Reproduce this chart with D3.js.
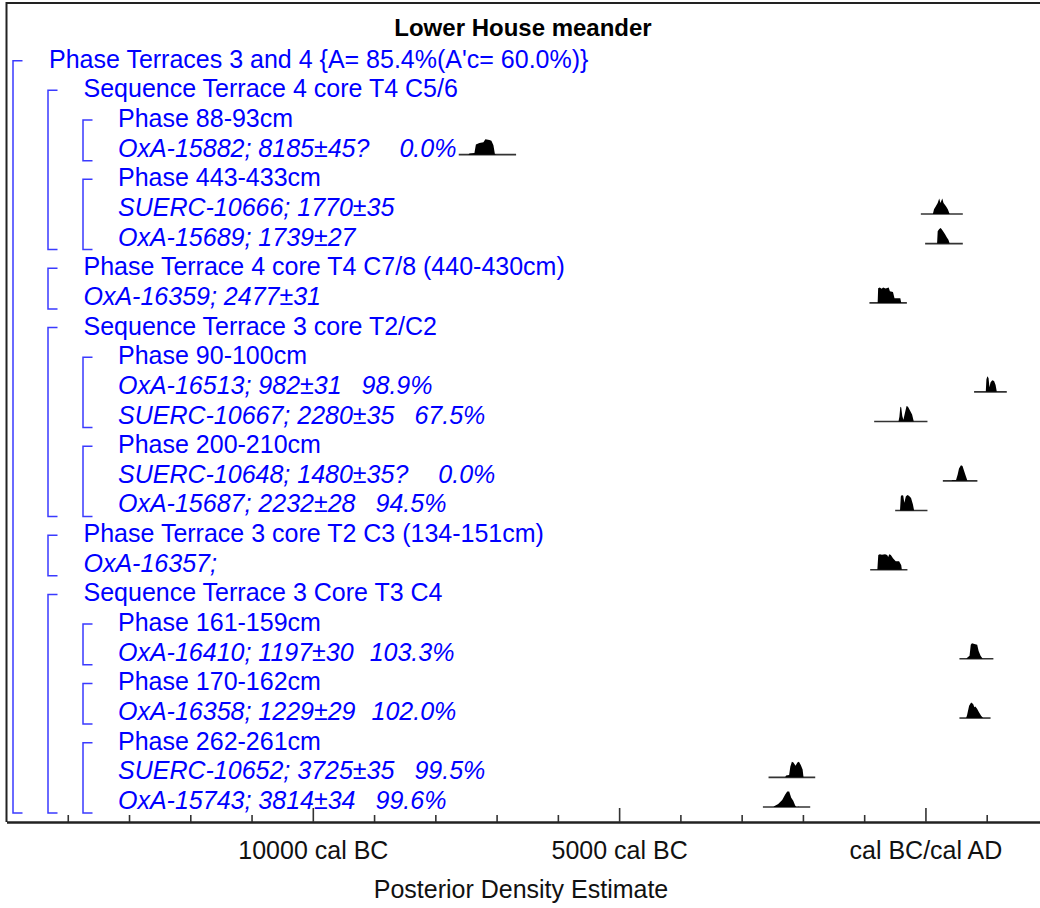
<!DOCTYPE html>
<html>
<head>
<meta charset="utf-8">
<script src="https://cdn.jsdelivr.net/npm/d3@7"></script>
<style>
body{margin:0;background:#fff;}
text{font-family:"Liberation Sans",Arial,sans-serif;}
</style>
</head>
<body>
<div id="canvas"></div>
<script>
// rows of the OxCal multiplot, top to bottom
var rowLabels = [
    'Phase Terraces 3 and 4 {A= 85.4%(A\'c= 60.0%)}',
    'Sequence Terrace 4 core T4 C5/6',
    'Phase 88-93cm',
    'OxA-15882; 8185±45?',
    'Phase 443-433cm',
    'SUERC-10666; 1770±35',
    'OxA-15689; 1739±27',
    'Phase Terrace 4 core T4 C7/8 (440-430cm)',
    'OxA-16359; 2477±31',
    'Sequence Terrace 3 core T2/C2',
    'Phase 90-100cm',
    'OxA-16513; 982±31',
    'SUERC-10667; 2280±35',
    'Phase 200-210cm',
    'SUERC-10648; 1480±35?',
    'OxA-15687; 2232±28',
    'Phase Terrace 3 core T2 C3 (134-151cm)',
    'OxA-16357;',
    'Sequence Terrace 3 Core T3 C4',
    'Phase 161-159cm',
    'OxA-16410; 1197±30',
    'Phase 170-162cm',
    'OxA-16358; 1229±29',
    'Phase 262-261cm',
    'SUERC-10652; 3725±35',
    'OxA-15743; 3814±34'
];
var rowLevel = [0,1,2,2,2,2,2,1,1,1,2,2,2,2,2,2,1,1,1,2,2,2,2,2,2,2];
var agreement = [null,null,null,'0.0',null,null,null,null,null,null,null,'98.9','67.5',null,'0.0','94.5',null,null,null,null,'103.3',null,'102.0',null,'99.5','99.6'];

// brackets: [first row, last row, level]
var groups = [[0,25,0],[1,6,1],[2,3,2],[4,6,2],[7,8,1],[9,15,1],[10,12,2],[13,15,2],
              [16,17,1],[18,25,1],[19,20,2],[21,22,2],[23,25,2]];

// posterior densities, [year (BC negative), relative density]
var pdfOxA15882 = [[-7460,0],[-7444,0.08],[-7362,0.1],[-7338,0.65],[-7281,0.75],[-7215,0.8],[-7183,1],[-7118,0.95],[-7085,0.9],[-7052,0.6],[-7028,0.05],[-7004,0]];
var pdfSUERC10666 = [[121,0],[140,0.3],[170,0.5],[200,0.7],[225,1],[245,0.7],[275,1],[295,0.7],[335,0.5],[365,0.3],[395,0]];
var pdfOxA15689 = [[190,0],[200,0.8],[225,0.95],[250,1],[280,0.85],[320,0.6],[350,0.4],[375,0.25],[395,0]];
var pdfOxA16359 = [[-780,0],[-772,0.95],[-745,1],[-715,0.92],[-690,1],[-650,0.93],[-600,1],[-580,0.75],[-530,0.7],[-505,0.3],[-410,0.3],[-395,0]];
var pdfOxA16513 = [[985,0],[995,0.8],[1010,1],[1030,0.9],[1045,0.3],[1062,0.6],[1090,0.75],[1120,0.7],[1145,0.45],[1165,0]];
var pdfSUERC10667 = [[-440,0],[-425,0.3],[-410,0.95],[-395,0.9],[-378,0.35],[-360,0.12],[-335,0.55],[-308,1],[-285,0.95],[-250,0.7],[-218,0.45],[-190,0]];
var pdfSUERC10648 = [[430,0],[432,0.05],[500,0.05],[525,0.4],[548,0.8],[580,1],[605,0.95],[630,0.65],[660,0.3],[685,0]];
var pdfOxA15687 = [[-415,0],[-402,0.9],[-385,1],[-362,0.95],[-345,0.5],[-320,0.9],[-295,1],[-270,0.95],[-235,0.8],[-205,0.4],[-185,0]];
var pdfOxA16357 = [[-785,0],[-770,0.95],[-745,1],[-710,0.97],[-660,1],[-625,0.95],[-608,0.82],[-590,1],[-565,0.95],[-530,0.75],[-485,0.55],[-430,0.55],[-395,0.3],[-385,0]];
var pdfOxA16410 = [[665,0],[690,0.1],[720,0.2],[740,0.9],[760,1],[800,0.95],[845,0.9],[868,0.5],[900,0.2],[935,0]];
var pdfOxA16358 = [[664,0],[680,0.2],[713,0.8],[746,1],[778,0.9],[800,0.7],[815,0.75],[843,0.6],[876,0.35],[909,0.15],[941,0]];
var pdfSUERC10652 = [[-2290,0],[-2275,0.12],[-2225,0.15],[-2205,0.7],[-2180,1],[-2155,0.95],[-2120,0.75],[-2090,0.95],[-2065,1],[-2035,0.8],[-2005,0.5],[-1990,0]];
var pdfOxA15743 = [[-2480,0],[-2470,0.05],[-2403,0.2],[-2338,0.45],[-2289,0.8],[-2256,1],[-2224,1],[-2191,0.6],[-2158,0.4],[-2126,0.1],[-2109,0],[-2080,0],[-2075,0.05],[-2070,0]];

// which row each density sits on, with the extent of its flat line
var distRows = [3,5,6,8,11,12,14,15,17,20,22,24,25];
var distPdfs = [pdfOxA15882,pdfSUERC10666,pdfOxA15689,pdfOxA16359,pdfOxA16513,pdfSUERC10667,pdfSUERC10648,pdfOxA15687,pdfOxA16357,pdfOxA16410,pdfOxA16358,pdfSUERC10652,pdfOxA15743];
var distSpan = [[-7618,-6682],[-75,610],[-5,610],[-914,-303],[794,1328],[-837,33],[284,848],[-494,33],[-902,-294],[555,1109],[555,1063],[-2561,-1799],[-2653,-1881]];

var minorTicks = [-14000,-13000,-12000,-11000,-9000,-8000,-7000,-6000,-4000,-3000,-2000,-1000,1000];
var majorTicks = [-10000,-5000,0];
var majorLabels = ['10000 cal BC','5000 cal BC','cal BC/cal AD'];

var W = 1040, H = 908;
var axisY = 822;

var svg = d3.select('#canvas').append('svg')
    .attr('width',W)
    .attr('height',H);

var x = d3.scaleLinear().domain([-15000,1870]).range([6.5,1040]);
var rowY = d3.scaleLinear().domain([0,25]).range([67.7,809]);
var hY = d3.scaleLinear().domain([0,1]).range([0,-15.5]);

// frame
svg.append('path')
    .attr('d','M6.5,' + axisY + 'V3H1040')
    .attr('fill','none')
    .attr('stroke','#222')
    .attr('stroke-width',2);

svg.append('text')
    .attr('x',523).attr('y',36)
    .attr('text-anchor','middle')
    .attr('font-size',24)
    .attr('font-weight','bold')
    .text('Lower House meander');

// brackets
svg.selectAll('.bracket')
    .data(groups)
  .enter().append('path')
    .attr('class','bracket')
    .attr('fill','none')
    .attr('stroke','#3a3aff')
    .attr('stroke-width',1.5)
    .attr('d',function(g){
        var bx = 13 + 35*g[2];
        var y0 = rowY(g[0]) - 7, y1 = rowY(g[1]) + 4;
        return 'M' + (bx+9.5) + ',' + y0 + 'H' + bx + 'V' + y1 + 'H' + (bx+9.5);
    });

// labels
var isHeader = {};
groups.forEach(function(g){ isHeader[g[0]] = true; });

var labels = svg.selectAll('.label')
    .data(rowLabels)
  .enter().append('text')
    .attr('class','label')
    .attr('x',function(d,i){ return 49 + 34.5*rowLevel[i]; })
    .attr('y',function(d,i){ return rowY(i); })
    .attr('font-size',25)
    .attr('fill','#0000ff')
    .attr('font-style',function(d,i){ return isHeader[i] ? 'normal' : 'italic'; });

labels.append('tspan').text(function(d){ return d; });
labels.filter(function(d,i){ return agreement[i]; })
    .append('tspan')
    .attr('dx',function(d){
        var a = agreement[rowLabels.indexOf(d)];
        var n = a.split('.')[0].length;
        return n === 1 ? 30 : (n === 2 ? 20 : 16);
    })
    .text(function(d){ return agreement[rowLabels.indexOf(d)] + '%'; });

// densities
var area = d3.area()
    .x(function(d){ return x(d[0]); })
    .y0(0)
    .y1(function(d){ return hY(d[1]); });

var dist = svg.selectAll('.dist')
    .data(distRows)
  .enter().append('g')
    .attr('class','dist')
    .attr('transform',function(r){ return 'translate(0,' + (rowY(r) - 2) + ')'; });

dist.append('line')
    .attr('x1',function(r,i){ return x(distSpan[i][0]); })
    .attr('x2',function(r,i){ return x(distSpan[i][1]); })
    .attr('stroke','#333')
    .attr('stroke-width',1.6);

dist.append('path')
    .attr('d',function(r,i){ return area(distPdfs[i]); })
    .attr('fill','#000');

// axis
var minorAxis = svg.append('g')
    .attr('transform','translate(0,' + axisY + ')')
    .call(d3.axisBottom(x).tickValues(minorTicks).tickSize(-7).tickSizeOuter(0).tickFormat(''));

var majorAxis = svg.append('g')
    .attr('transform','translate(0,' + axisY + ')')
    .call(d3.axisBottom(x).tickValues(majorTicks).tickSize(-14).tickSizeOuter(0)
        .tickPadding(19).tickFormat(function(d,i){ return majorLabels[i]; }));

svg.selectAll('.domain').attr('stroke','#222').attr('stroke-width',2);
svg.selectAll('.tick line').attr('stroke','#333').attr('stroke-width',1.6);
majorAxis.selectAll('text')
    .attr('font-size',25)
    .attr('font-family','"Liberation Sans",Arial,sans-serif')
    .attr('fill','#111');

svg.append('text')
    .attr('x',521).attr('y',898)
    .attr('text-anchor','middle')
    .attr('font-size',25)
    .attr('fill','#111')
    .text('Posterior Density Estimate');
</script>
</body>
</html>
